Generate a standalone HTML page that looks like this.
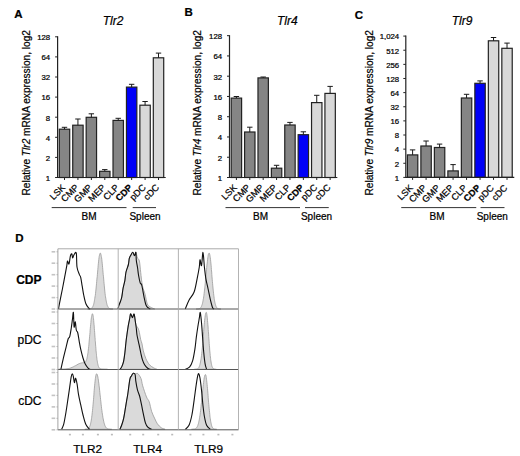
<!DOCTYPE html>
<html><head><meta charset="utf-8"><style>
html,body{margin:0;padding:0;background:#fff;}
svg{display:block;}
text{font-family:"Liberation Sans", sans-serif;stroke:#000;stroke-width:0.22px;}
</style></head><body>
<svg width="520" height="456" viewBox="0 0 520 456" font-family="'Liberation Sans', sans-serif"><text x="14.30" y="17.80" font-size="11.5" text-anchor="start" font-weight="bold" font-style="normal" fill="#000" >A</text>
<text x="113.00" y="25.30" font-size="12" text-anchor="middle" font-weight="normal" font-style="italic" fill="#000" >Tlr2</text>
<text transform="translate(29.50,112.80) rotate(-90)" font-size="10.15" text-anchor="middle">Relative <tspan font-style="italic">Tlr2</tspan> mRNA expression, log2</text>
<line x1="55.10" y1="177.50" x2="57.60" y2="177.50" stroke="#222" stroke-width="1"/>
<text x="50.20" y="180.80" font-size="7.8" text-anchor="end" font-weight="normal" font-style="normal" fill="#000" >1</text>
<line x1="55.10" y1="157.40" x2="57.60" y2="157.40" stroke="#222" stroke-width="1"/>
<text x="50.20" y="160.70" font-size="7.8" text-anchor="end" font-weight="normal" font-style="normal" fill="#000" >2</text>
<line x1="55.10" y1="137.30" x2="57.60" y2="137.30" stroke="#222" stroke-width="1"/>
<text x="50.20" y="140.60" font-size="7.8" text-anchor="end" font-weight="normal" font-style="normal" fill="#000" >4</text>
<line x1="55.10" y1="117.20" x2="57.60" y2="117.20" stroke="#222" stroke-width="1"/>
<text x="50.20" y="120.50" font-size="7.8" text-anchor="end" font-weight="normal" font-style="normal" fill="#000" >8</text>
<line x1="55.10" y1="97.10" x2="57.60" y2="97.10" stroke="#222" stroke-width="1"/>
<text x="50.20" y="100.40" font-size="7.8" text-anchor="end" font-weight="normal" font-style="normal" fill="#000" >16</text>
<line x1="55.10" y1="77.00" x2="57.60" y2="77.00" stroke="#222" stroke-width="1"/>
<text x="50.20" y="80.30" font-size="7.8" text-anchor="end" font-weight="normal" font-style="normal" fill="#000" >32</text>
<line x1="55.10" y1="56.90" x2="57.60" y2="56.90" stroke="#222" stroke-width="1"/>
<text x="50.20" y="60.20" font-size="7.8" text-anchor="end" font-weight="normal" font-style="normal" fill="#000" >64</text>
<line x1="55.10" y1="36.80" x2="57.60" y2="36.80" stroke="#222" stroke-width="1"/>
<text x="50.20" y="40.10" font-size="7.8" text-anchor="end" font-weight="normal" font-style="normal" fill="#000" >128</text>
<rect x="59.30" y="129.20" width="10.40" height="48.30" fill="#858585" stroke="#222" stroke-width="1.2"/>
<line x1="64.50" y1="129.20" x2="64.50" y2="127.30" stroke="#1a1a1a" stroke-width="1"/>
<line x1="61.80" y1="127.30" x2="67.20" y2="127.30" stroke="#1a1a1a" stroke-width="1"/>
<line x1="64.50" y1="177.50" x2="64.50" y2="180.00" stroke="#222" stroke-width="1"/>
<text transform="translate(65.80,188.10) rotate(-45)" font-size="9.2" text-anchor="end" font-weight="normal">LSK</text>
<rect x="72.73" y="125.20" width="10.40" height="52.30" fill="#858585" stroke="#222" stroke-width="1.2"/>
<line x1="77.93" y1="125.20" x2="77.93" y2="119.00" stroke="#1a1a1a" stroke-width="1"/>
<line x1="75.23" y1="119.00" x2="80.63" y2="119.00" stroke="#1a1a1a" stroke-width="1"/>
<line x1="77.93" y1="177.50" x2="77.93" y2="180.00" stroke="#222" stroke-width="1"/>
<text transform="translate(79.23,188.10) rotate(-45)" font-size="9.2" text-anchor="end" font-weight="normal">CMP</text>
<rect x="86.16" y="117.30" width="10.40" height="60.20" fill="#858585" stroke="#222" stroke-width="1.2"/>
<line x1="91.36" y1="117.30" x2="91.36" y2="113.80" stroke="#1a1a1a" stroke-width="1"/>
<line x1="88.66" y1="113.80" x2="94.06" y2="113.80" stroke="#1a1a1a" stroke-width="1"/>
<line x1="91.36" y1="177.50" x2="91.36" y2="180.00" stroke="#222" stroke-width="1"/>
<text transform="translate(92.66,188.10) rotate(-45)" font-size="9.2" text-anchor="end" font-weight="normal">GMP</text>
<rect x="99.59" y="171.30" width="10.40" height="6.20" fill="#858585" stroke="#222" stroke-width="1.2"/>
<line x1="104.79" y1="171.30" x2="104.79" y2="169.60" stroke="#1a1a1a" stroke-width="1"/>
<line x1="102.09" y1="169.60" x2="107.49" y2="169.60" stroke="#1a1a1a" stroke-width="1"/>
<line x1="104.79" y1="177.50" x2="104.79" y2="180.00" stroke="#222" stroke-width="1"/>
<text transform="translate(106.09,188.10) rotate(-45)" font-size="9.2" text-anchor="end" font-weight="normal">MEP</text>
<rect x="113.02" y="120.40" width="10.40" height="57.10" fill="#858585" stroke="#222" stroke-width="1.2"/>
<line x1="118.22" y1="120.40" x2="118.22" y2="118.30" stroke="#1a1a1a" stroke-width="1"/>
<line x1="115.52" y1="118.30" x2="120.92" y2="118.30" stroke="#1a1a1a" stroke-width="1"/>
<line x1="118.22" y1="177.50" x2="118.22" y2="180.00" stroke="#222" stroke-width="1"/>
<text transform="translate(119.52,188.10) rotate(-45)" font-size="9.2" text-anchor="end" font-weight="normal">CLP</text>
<rect x="126.45" y="87.10" width="10.40" height="90.40" fill="#0000f8" stroke="#222" stroke-width="1.2"/>
<line x1="131.65" y1="87.10" x2="131.65" y2="84.30" stroke="#1a1a1a" stroke-width="1"/>
<line x1="128.95" y1="84.30" x2="134.35" y2="84.30" stroke="#1a1a1a" stroke-width="1"/>
<line x1="131.65" y1="177.50" x2="131.65" y2="180.00" stroke="#222" stroke-width="1"/>
<text transform="translate(132.95,188.10) rotate(-45)" font-size="9.2" text-anchor="end" font-weight="bold">CDP</text>
<rect x="139.88" y="105.20" width="10.40" height="72.30" fill="#d8d8d8" stroke="#222" stroke-width="1.2"/>
<line x1="145.08" y1="105.20" x2="145.08" y2="101.50" stroke="#1a1a1a" stroke-width="1"/>
<line x1="142.38" y1="101.50" x2="147.78" y2="101.50" stroke="#1a1a1a" stroke-width="1"/>
<line x1="145.08" y1="177.50" x2="145.08" y2="180.00" stroke="#222" stroke-width="1"/>
<text transform="translate(146.38,188.10) rotate(-45)" font-size="9.2" text-anchor="end" font-weight="normal">pDC</text>
<rect x="153.31" y="57.80" width="10.40" height="119.70" fill="#d8d8d8" stroke="#222" stroke-width="1.2"/>
<line x1="158.51" y1="57.80" x2="158.51" y2="53.10" stroke="#1a1a1a" stroke-width="1"/>
<line x1="155.81" y1="53.10" x2="161.21" y2="53.10" stroke="#1a1a1a" stroke-width="1"/>
<line x1="158.51" y1="177.50" x2="158.51" y2="180.00" stroke="#222" stroke-width="1"/>
<text transform="translate(159.81,188.10) rotate(-45)" font-size="9.2" text-anchor="end" font-weight="normal">cDC</text>
<line x1="57.60" y1="36.30" x2="57.60" y2="178.00" stroke="#222" stroke-width="1.2"/>
<line x1="57.60" y1="177.50" x2="165.72" y2="177.50" stroke="#222" stroke-width="1.2"/>
<line x1="51.70" y1="207.6" x2="126.50" y2="207.6" stroke="#333" stroke-width="1"/>
<line x1="132.70" y1="207.6" x2="156.00" y2="207.6" stroke="#333" stroke-width="1"/>
<text x="89.10" y="220.40" font-size="10" text-anchor="middle" font-weight="normal" font-style="normal" fill="#000" >BM</text>
<text x="145.00" y="220.40" font-size="10" text-anchor="middle" font-weight="normal" font-style="normal" fill="#000" >Spleen</text>
<text x="184.50" y="16.40" font-size="11.5" text-anchor="start" font-weight="bold" font-style="normal" fill="#000" >B</text>
<text x="287.30" y="25.30" font-size="12" text-anchor="middle" font-weight="normal" font-style="italic" fill="#000" >Tlr4</text>
<text transform="translate(201.00,112.80) rotate(-90)" font-size="10.15" text-anchor="middle">Relative <tspan font-style="italic">Tlr4</tspan> mRNA expression, log2</text>
<line x1="227.00" y1="177.50" x2="229.50" y2="177.50" stroke="#222" stroke-width="1"/>
<text x="222.10" y="180.80" font-size="7.8" text-anchor="end" font-weight="normal" font-style="normal" fill="#000" >1</text>
<line x1="227.00" y1="157.24" x2="229.50" y2="157.24" stroke="#222" stroke-width="1"/>
<text x="222.10" y="160.54" font-size="7.8" text-anchor="end" font-weight="normal" font-style="normal" fill="#000" >2</text>
<line x1="227.00" y1="136.98" x2="229.50" y2="136.98" stroke="#222" stroke-width="1"/>
<text x="222.10" y="140.28" font-size="7.8" text-anchor="end" font-weight="normal" font-style="normal" fill="#000" >4</text>
<line x1="227.00" y1="116.72" x2="229.50" y2="116.72" stroke="#222" stroke-width="1"/>
<text x="222.10" y="120.02" font-size="7.8" text-anchor="end" font-weight="normal" font-style="normal" fill="#000" >8</text>
<line x1="227.00" y1="96.46" x2="229.50" y2="96.46" stroke="#222" stroke-width="1"/>
<text x="222.10" y="99.76" font-size="7.8" text-anchor="end" font-weight="normal" font-style="normal" fill="#000" >16</text>
<line x1="227.00" y1="76.20" x2="229.50" y2="76.20" stroke="#222" stroke-width="1"/>
<text x="222.10" y="79.50" font-size="7.8" text-anchor="end" font-weight="normal" font-style="normal" fill="#000" >32</text>
<line x1="227.00" y1="55.94" x2="229.50" y2="55.94" stroke="#222" stroke-width="1"/>
<text x="222.10" y="59.24" font-size="7.8" text-anchor="end" font-weight="normal" font-style="normal" fill="#000" >64</text>
<line x1="227.00" y1="35.68" x2="229.50" y2="35.68" stroke="#222" stroke-width="1"/>
<text x="222.10" y="38.98" font-size="7.8" text-anchor="end" font-weight="normal" font-style="normal" fill="#000" >128</text>
<rect x="231.20" y="98.10" width="10.40" height="79.40" fill="#858585" stroke="#222" stroke-width="1.2"/>
<line x1="236.40" y1="98.10" x2="236.40" y2="96.50" stroke="#1a1a1a" stroke-width="1"/>
<line x1="233.70" y1="96.50" x2="239.10" y2="96.50" stroke="#1a1a1a" stroke-width="1"/>
<line x1="236.40" y1="177.50" x2="236.40" y2="180.00" stroke="#222" stroke-width="1"/>
<text transform="translate(237.50,188.10) rotate(-45)" font-size="9.2" text-anchor="end" font-weight="normal">LSK</text>
<rect x="244.59" y="132.00" width="10.40" height="45.50" fill="#858585" stroke="#222" stroke-width="1.2"/>
<line x1="249.79" y1="132.00" x2="249.79" y2="127.20" stroke="#1a1a1a" stroke-width="1"/>
<line x1="247.09" y1="127.20" x2="252.49" y2="127.20" stroke="#1a1a1a" stroke-width="1"/>
<line x1="249.79" y1="177.50" x2="249.79" y2="180.00" stroke="#222" stroke-width="1"/>
<text transform="translate(250.89,188.10) rotate(-45)" font-size="9.2" text-anchor="end" font-weight="normal">CMP</text>
<rect x="257.98" y="77.90" width="10.40" height="99.60" fill="#858585" stroke="#222" stroke-width="1.2"/>
<line x1="263.18" y1="77.90" x2="263.18" y2="77.00" stroke="#1a1a1a" stroke-width="1"/>
<line x1="260.48" y1="77.00" x2="265.88" y2="77.00" stroke="#1a1a1a" stroke-width="1"/>
<line x1="263.18" y1="177.50" x2="263.18" y2="180.00" stroke="#222" stroke-width="1"/>
<text transform="translate(264.28,188.10) rotate(-45)" font-size="9.2" text-anchor="end" font-weight="normal">GMP</text>
<rect x="271.37" y="168.20" width="10.40" height="9.30" fill="#858585" stroke="#222" stroke-width="1.2"/>
<line x1="276.57" y1="168.20" x2="276.57" y2="165.30" stroke="#1a1a1a" stroke-width="1"/>
<line x1="273.87" y1="165.30" x2="279.27" y2="165.30" stroke="#1a1a1a" stroke-width="1"/>
<line x1="276.57" y1="177.50" x2="276.57" y2="180.00" stroke="#222" stroke-width="1"/>
<text transform="translate(277.67,188.10) rotate(-45)" font-size="9.2" text-anchor="end" font-weight="normal">MEP</text>
<rect x="284.76" y="125.00" width="10.40" height="52.50" fill="#858585" stroke="#222" stroke-width="1.2"/>
<line x1="289.96" y1="125.00" x2="289.96" y2="122.40" stroke="#1a1a1a" stroke-width="1"/>
<line x1="287.26" y1="122.40" x2="292.66" y2="122.40" stroke="#1a1a1a" stroke-width="1"/>
<line x1="289.96" y1="177.50" x2="289.96" y2="180.00" stroke="#222" stroke-width="1"/>
<text transform="translate(291.06,188.10) rotate(-45)" font-size="9.2" text-anchor="end" font-weight="normal">CLP</text>
<rect x="298.15" y="134.70" width="10.40" height="42.80" fill="#0000f8" stroke="#222" stroke-width="1.2"/>
<line x1="303.35" y1="134.70" x2="303.35" y2="131.80" stroke="#1a1a1a" stroke-width="1"/>
<line x1="300.65" y1="131.80" x2="306.05" y2="131.80" stroke="#1a1a1a" stroke-width="1"/>
<line x1="303.35" y1="177.50" x2="303.35" y2="180.00" stroke="#222" stroke-width="1"/>
<text transform="translate(304.45,188.10) rotate(-45)" font-size="9.2" text-anchor="end" font-weight="bold">CDP</text>
<rect x="311.54" y="102.60" width="10.40" height="74.90" fill="#d8d8d8" stroke="#222" stroke-width="1.2"/>
<line x1="316.74" y1="102.60" x2="316.74" y2="95.30" stroke="#1a1a1a" stroke-width="1"/>
<line x1="314.04" y1="95.30" x2="319.44" y2="95.30" stroke="#1a1a1a" stroke-width="1"/>
<line x1="316.74" y1="177.50" x2="316.74" y2="180.00" stroke="#222" stroke-width="1"/>
<text transform="translate(317.84,188.10) rotate(-45)" font-size="9.2" text-anchor="end" font-weight="normal">pDC</text>
<rect x="324.93" y="93.40" width="10.40" height="84.10" fill="#d8d8d8" stroke="#222" stroke-width="1.2"/>
<line x1="330.13" y1="93.40" x2="330.13" y2="86.40" stroke="#1a1a1a" stroke-width="1"/>
<line x1="327.43" y1="86.40" x2="332.83" y2="86.40" stroke="#1a1a1a" stroke-width="1"/>
<line x1="330.13" y1="177.50" x2="330.13" y2="180.00" stroke="#222" stroke-width="1"/>
<text transform="translate(331.23,188.10) rotate(-45)" font-size="9.2" text-anchor="end" font-weight="normal">cDC</text>
<line x1="229.50" y1="35.18" x2="229.50" y2="178.00" stroke="#222" stroke-width="1.2"/>
<line x1="229.50" y1="177.50" x2="337.32" y2="177.50" stroke="#222" stroke-width="1.2"/>
<line x1="225.50" y1="207.6" x2="300.00" y2="207.6" stroke="#333" stroke-width="1"/>
<line x1="305.00" y1="207.6" x2="328.75" y2="207.6" stroke="#333" stroke-width="1"/>
<text x="260.50" y="220.40" font-size="10" text-anchor="middle" font-weight="normal" font-style="normal" fill="#000" >BM</text>
<text x="316.50" y="220.40" font-size="10" text-anchor="middle" font-weight="normal" font-style="normal" fill="#000" >Spleen</text>
<text x="354.80" y="18.60" font-size="11.5" text-anchor="start" font-weight="bold" font-style="normal" fill="#000" >C</text>
<text x="462.00" y="25.30" font-size="12" text-anchor="middle" font-weight="normal" font-style="italic" fill="#000" >Tlr9</text>
<text transform="translate(373.00,112.80) rotate(-90)" font-size="10.15" text-anchor="middle">Relative <tspan font-style="italic">Tlr9</tspan> mRNA expression, log2</text>
<line x1="403.30" y1="177.40" x2="405.80" y2="177.40" stroke="#222" stroke-width="1"/>
<text x="399.20" y="180.70" font-size="7.8" text-anchor="end" font-weight="normal" font-style="normal" fill="#000" >1</text>
<line x1="403.30" y1="163.27" x2="405.80" y2="163.27" stroke="#222" stroke-width="1"/>
<text x="399.20" y="166.57" font-size="7.8" text-anchor="end" font-weight="normal" font-style="normal" fill="#000" >2</text>
<line x1="403.30" y1="149.14" x2="405.80" y2="149.14" stroke="#222" stroke-width="1"/>
<text x="399.20" y="152.44" font-size="7.8" text-anchor="end" font-weight="normal" font-style="normal" fill="#000" >4</text>
<line x1="403.30" y1="135.01" x2="405.80" y2="135.01" stroke="#222" stroke-width="1"/>
<text x="399.20" y="138.31" font-size="7.8" text-anchor="end" font-weight="normal" font-style="normal" fill="#000" >8</text>
<line x1="403.30" y1="120.88" x2="405.80" y2="120.88" stroke="#222" stroke-width="1"/>
<text x="399.20" y="124.18" font-size="7.8" text-anchor="end" font-weight="normal" font-style="normal" fill="#000" >16</text>
<line x1="403.30" y1="106.75" x2="405.80" y2="106.75" stroke="#222" stroke-width="1"/>
<text x="399.20" y="110.05" font-size="7.8" text-anchor="end" font-weight="normal" font-style="normal" fill="#000" >32</text>
<line x1="403.30" y1="92.62" x2="405.80" y2="92.62" stroke="#222" stroke-width="1"/>
<text x="399.20" y="95.92" font-size="7.8" text-anchor="end" font-weight="normal" font-style="normal" fill="#000" >64</text>
<line x1="403.30" y1="78.49" x2="405.80" y2="78.49" stroke="#222" stroke-width="1"/>
<text x="399.20" y="81.79" font-size="7.8" text-anchor="end" font-weight="normal" font-style="normal" fill="#000" >128</text>
<line x1="403.30" y1="64.36" x2="405.80" y2="64.36" stroke="#222" stroke-width="1"/>
<text x="399.20" y="67.66" font-size="7.8" text-anchor="end" font-weight="normal" font-style="normal" fill="#000" >256</text>
<line x1="403.30" y1="50.23" x2="405.80" y2="50.23" stroke="#222" stroke-width="1"/>
<text x="399.20" y="53.53" font-size="7.8" text-anchor="end" font-weight="normal" font-style="normal" fill="#000" >512</text>
<line x1="403.30" y1="36.10" x2="405.80" y2="36.10" stroke="#222" stroke-width="1"/>
<text x="399.20" y="39.40" font-size="7.8" text-anchor="end" font-weight="normal" font-style="normal" fill="#000" >1,024</text>
<rect x="407.40" y="154.90" width="10.40" height="22.50" fill="#858585" stroke="#222" stroke-width="1.2"/>
<line x1="412.60" y1="154.90" x2="412.60" y2="149.90" stroke="#1a1a1a" stroke-width="1"/>
<line x1="409.90" y1="149.90" x2="415.30" y2="149.90" stroke="#1a1a1a" stroke-width="1"/>
<line x1="412.60" y1="177.40" x2="412.60" y2="179.90" stroke="#222" stroke-width="1"/>
<text transform="translate(413.60,188.50) rotate(-45)" font-size="9.2" text-anchor="end" font-weight="normal">LSK</text>
<rect x="420.89" y="146.00" width="10.40" height="31.40" fill="#858585" stroke="#222" stroke-width="1.2"/>
<line x1="426.09" y1="146.00" x2="426.09" y2="141.00" stroke="#1a1a1a" stroke-width="1"/>
<line x1="423.39" y1="141.00" x2="428.79" y2="141.00" stroke="#1a1a1a" stroke-width="1"/>
<line x1="426.09" y1="177.40" x2="426.09" y2="179.90" stroke="#222" stroke-width="1"/>
<text transform="translate(427.09,188.50) rotate(-45)" font-size="9.2" text-anchor="end" font-weight="normal">CMP</text>
<rect x="434.38" y="147.50" width="10.40" height="29.90" fill="#858585" stroke="#222" stroke-width="1.2"/>
<line x1="439.58" y1="147.50" x2="439.58" y2="144.10" stroke="#1a1a1a" stroke-width="1"/>
<line x1="436.88" y1="144.10" x2="442.28" y2="144.10" stroke="#1a1a1a" stroke-width="1"/>
<line x1="439.58" y1="177.40" x2="439.58" y2="179.90" stroke="#222" stroke-width="1"/>
<text transform="translate(440.58,188.50) rotate(-45)" font-size="9.2" text-anchor="end" font-weight="normal">GMP</text>
<rect x="447.87" y="170.90" width="10.40" height="6.50" fill="#858585" stroke="#222" stroke-width="1.2"/>
<line x1="453.07" y1="170.90" x2="453.07" y2="164.60" stroke="#1a1a1a" stroke-width="1"/>
<line x1="450.37" y1="164.60" x2="455.77" y2="164.60" stroke="#1a1a1a" stroke-width="1"/>
<line x1="453.07" y1="177.40" x2="453.07" y2="179.90" stroke="#222" stroke-width="1"/>
<text transform="translate(454.07,188.50) rotate(-45)" font-size="9.2" text-anchor="end" font-weight="normal">MEP</text>
<rect x="461.36" y="98.00" width="10.40" height="79.40" fill="#858585" stroke="#222" stroke-width="1.2"/>
<line x1="466.56" y1="98.00" x2="466.56" y2="94.30" stroke="#1a1a1a" stroke-width="1"/>
<line x1="463.86" y1="94.30" x2="469.26" y2="94.30" stroke="#1a1a1a" stroke-width="1"/>
<line x1="466.56" y1="177.40" x2="466.56" y2="179.90" stroke="#222" stroke-width="1"/>
<text transform="translate(467.56,188.50) rotate(-45)" font-size="9.2" text-anchor="end" font-weight="normal">CLP</text>
<rect x="474.85" y="83.30" width="10.40" height="94.10" fill="#0000f8" stroke="#222" stroke-width="1.2"/>
<line x1="480.05" y1="83.30" x2="480.05" y2="80.90" stroke="#1a1a1a" stroke-width="1"/>
<line x1="477.35" y1="80.90" x2="482.75" y2="80.90" stroke="#1a1a1a" stroke-width="1"/>
<line x1="480.05" y1="177.40" x2="480.05" y2="179.90" stroke="#222" stroke-width="1"/>
<text transform="translate(481.05,188.50) rotate(-45)" font-size="9.2" text-anchor="end" font-weight="bold">CDP</text>
<rect x="488.34" y="40.80" width="10.40" height="136.60" fill="#d8d8d8" stroke="#222" stroke-width="1.2"/>
<line x1="493.54" y1="40.80" x2="493.54" y2="37.50" stroke="#1a1a1a" stroke-width="1"/>
<line x1="490.84" y1="37.50" x2="496.24" y2="37.50" stroke="#1a1a1a" stroke-width="1"/>
<line x1="493.54" y1="177.40" x2="493.54" y2="179.90" stroke="#222" stroke-width="1"/>
<text transform="translate(494.54,188.50) rotate(-45)" font-size="9.2" text-anchor="end" font-weight="normal">pDC</text>
<rect x="501.83" y="48.30" width="10.40" height="129.10" fill="#d8d8d8" stroke="#222" stroke-width="1.2"/>
<line x1="507.03" y1="48.30" x2="507.03" y2="43.10" stroke="#1a1a1a" stroke-width="1"/>
<line x1="504.33" y1="43.10" x2="509.73" y2="43.10" stroke="#1a1a1a" stroke-width="1"/>
<line x1="507.03" y1="177.40" x2="507.03" y2="179.90" stroke="#222" stroke-width="1"/>
<text transform="translate(508.03,188.50) rotate(-45)" font-size="9.2" text-anchor="end" font-weight="normal">cDC</text>
<line x1="405.80" y1="35.60" x2="405.80" y2="177.90" stroke="#222" stroke-width="1.2"/>
<line x1="405.80" y1="177.40" x2="514.27" y2="177.40" stroke="#222" stroke-width="1.2"/>
<line x1="401.25" y1="207.6" x2="476.25" y2="207.6" stroke="#333" stroke-width="1"/>
<line x1="480.50" y1="207.6" x2="504.50" y2="207.6" stroke="#333" stroke-width="1"/>
<text x="437.00" y="220.40" font-size="10" text-anchor="middle" font-weight="normal" font-style="normal" fill="#000" >BM</text>
<text x="492.25" y="220.40" font-size="10" text-anchor="middle" font-weight="normal" font-style="normal" fill="#000" >Spleen</text>
<text x="15.20" y="242.30" font-size="11.5" text-anchor="start" font-weight="bold" font-style="normal" fill="#000" >D</text>
<text x="41.50" y="283.80" font-size="12" text-anchor="end" font-weight="bold" font-style="normal" fill="#000" >CDP</text>
<text x="41.50" y="344.20" font-size="12" text-anchor="end" font-weight="normal" font-style="normal" fill="#000" >pDC</text>
<text x="41.50" y="404.50" font-size="12" text-anchor="end" font-weight="normal" font-style="normal" fill="#000" >cDC</text>
<text x="87.60" y="453.00" font-size="11.8" text-anchor="middle" font-weight="normal" font-style="normal" fill="#000" >TLR2</text>
<text x="147.60" y="453.00" font-size="11.8" text-anchor="middle" font-weight="normal" font-style="normal" fill="#000" >TLR4</text>
<text x="208.60" y="453.00" font-size="11.8" text-anchor="middle" font-weight="normal" font-style="normal" fill="#000" >TLR9</text>
<polygon points="87.7,309.0 87.7,309.0 87.9,309.0 88.1,309.0 88.3,309.0 88.5,309.0 88.8,309.0 89.0,309.0 89.2,308.9 89.4,308.9 89.6,308.9 89.8,308.9 90.0,308.8 90.2,308.8 90.4,308.8 90.6,308.7 90.8,308.6 91.1,308.5 91.3,308.4 91.5,308.3 91.7,308.1 91.9,307.9 92.1,307.7 92.3,307.4 92.5,307.0 92.7,306.7 93.0,306.2 93.2,305.7 93.4,305.1 93.6,304.5 93.8,303.7 94.0,302.8 94.2,301.9 94.4,300.8 94.6,299.6 94.8,298.3 95.0,296.9 95.3,295.4 95.5,293.7 95.7,291.9 95.9,290.0 96.1,288.0 96.3,285.9 96.5,283.7 96.7,281.5 96.9,279.1 97.2,276.8 97.4,274.4 97.6,272.1 97.8,269.7 98.0,267.4 98.2,265.2 98.4,263.2 98.6,261.2 98.8,259.4 99.0,257.8 99.2,256.4 99.5,255.2 99.7,254.3 99.9,253.6 100.1,253.2 100.3,253.1 100.5,253.2 100.7,253.6 100.9,254.3 101.1,255.2 101.3,256.4 101.6,257.8 101.8,259.4 102.0,261.2 102.2,263.2 102.4,265.2 102.6,267.4 102.8,269.7 103.0,272.1 103.2,274.4 103.5,276.8 103.7,279.1 103.9,281.5 104.1,283.7 104.3,285.9 104.5,288.0 104.7,290.0 104.9,291.9 105.1,293.7 105.3,295.4 105.5,296.9 105.8,298.3 106.0,299.6 106.2,300.8 106.4,301.9 106.6,302.8 106.8,303.7 107.0,304.5 107.2,305.1 107.4,305.7 107.7,306.2 107.9,306.7 108.1,307.0 108.3,307.4 108.5,307.7 108.7,307.9 108.9,308.1 109.1,308.3 109.3,308.4 109.5,308.5 109.8,308.6 110.0,308.7 110.2,308.8 110.4,308.8 110.6,308.8 110.8,308.9 111.0,308.9 111.2,308.9 111.4,308.9 111.6,309.0 111.8,309.0 112.1,309.0 112.3,309.0 112.5,309.0 112.7,309.0 112.9,309.0 112.9,309.0" fill="#dadada" stroke="#999" stroke-width="0.8"/>
<path d="M58.50,309.00 C58.65,308.13 58.75,307.13 59.40,303.80 C60.05,300.47 61.53,293.40 62.40,289.00 C63.27,284.60 63.87,281.30 64.60,277.40 C65.33,273.50 66.32,268.33 66.80,265.60 C67.28,262.87 67.13,261.27 67.50,261.00 C67.87,260.73 68.52,264.83 69.00,264.00 C69.48,263.17 69.92,257.70 70.40,256.00 C70.88,254.30 71.53,253.47 71.90,253.80 C72.27,254.13 72.23,257.87 72.60,258.00 C72.97,258.13 73.48,255.42 74.10,254.60 C74.72,253.78 75.82,251.03 76.30,253.10 C76.78,255.17 76.50,263.45 77.00,267.00 C77.50,270.55 78.68,272.67 79.30,274.40 C79.92,276.13 80.22,275.43 80.70,277.40 C81.18,279.37 81.70,283.27 82.20,286.20 C82.70,289.13 83.08,292.07 83.70,295.00 C84.32,297.93 85.05,301.60 85.90,303.80 C86.75,306.00 88.12,307.33 88.80,308.20 C89.48,309.07 89.80,308.87 90.00,309.00" fill="none" stroke="#111" stroke-width="1.1" stroke-linejoin="round"/>
<path d="M118.00,309.00 C118.13,308.45 118.38,306.98 118.80,305.70 C119.22,304.42 120.00,302.77 120.50,301.30 C121.00,299.83 121.37,299.08 121.80,296.90 C122.23,294.72 122.58,290.97 123.10,288.20 C123.62,285.43 124.42,283.00 124.90,280.30 C125.38,277.60 125.42,274.63 126.00,272.00 C126.58,269.37 127.85,266.77 128.40,264.50 C128.95,262.23 128.87,260.00 129.30,258.40 C129.73,256.80 130.42,255.92 131.00,254.90 C131.58,253.88 132.22,252.15 132.80,252.30 C133.38,252.45 133.98,255.80 134.50,255.80 C135.02,255.80 135.40,251.93 135.90,252.30 C136.40,252.67 136.92,256.55 137.50,258.00 C138.08,259.45 138.87,258.60 139.40,261.00 C139.93,263.40 140.20,268.32 140.70,272.40 C141.20,276.48 141.67,281.85 142.40,285.50 C143.13,289.15 144.28,291.22 145.10,294.30 C145.92,297.38 146.43,301.88 147.30,304.00 C148.17,306.12 149.07,306.17 150.30,307.00 C151.53,307.83 153.97,308.67 154.70,309.00 Z" fill="#dadada" stroke="#999" stroke-width="0.8"/>
<path d="M118.00,309.00 C118.13,308.45 118.38,306.98 118.80,305.70 C119.22,304.42 120.00,302.77 120.50,301.30 C121.00,299.83 121.37,299.08 121.80,296.90 C122.23,294.72 122.58,290.97 123.10,288.20 C123.62,285.43 124.42,283.00 124.90,280.30 C125.38,277.60 125.42,274.63 126.00,272.00 C126.58,269.37 127.85,266.77 128.40,264.50 C128.95,262.23 128.87,260.00 129.30,258.40 C129.73,256.80 130.42,255.92 131.00,254.90 C131.58,253.88 132.22,252.15 132.80,252.30 C133.38,252.45 133.98,255.80 134.50,255.80 C135.02,255.80 135.60,251.57 135.90,252.30 C136.20,253.03 136.02,257.58 136.30,260.20 C136.58,262.82 137.23,265.53 137.60,268.00 C137.97,270.47 138.07,272.52 138.50,275.00 C138.93,277.48 139.68,281.30 140.20,282.90 C140.72,284.50 141.15,283.28 141.60,284.60 C142.05,285.92 142.47,288.60 142.90,290.80 C143.33,293.00 143.70,295.47 144.20,297.80 C144.70,300.13 145.32,303.18 145.90,304.80 C146.48,306.42 146.97,306.80 147.70,307.50 C148.43,308.20 149.87,308.75 150.30,309.00" fill="none" stroke="#111" stroke-width="1.1" stroke-linejoin="round"/>
<polygon points="196.1,309.0 196.1,309.0 196.3,309.0 196.5,309.0 196.7,309.0 196.9,309.0 197.2,309.0 197.4,309.0 197.6,308.9 197.8,308.9 198.0,308.9 198.2,308.9 198.5,308.8 198.7,308.8 198.9,308.8 199.1,308.7 199.3,308.6 199.6,308.5 199.8,308.4 200.0,308.3 200.2,308.1 200.4,307.9 200.6,307.7 200.8,307.4 201.1,307.0 201.3,306.7 201.5,306.2 201.7,305.7 201.9,305.1 202.2,304.4 202.4,303.7 202.6,302.8 202.8,301.9 203.0,300.8 203.2,299.6 203.5,298.3 203.7,296.9 203.9,295.4 204.1,293.7 204.3,291.9 204.5,290.1 204.8,288.0 205.0,285.9 205.2,283.8 205.4,281.5 205.6,279.1 205.8,276.8 206.1,274.4 206.3,272.0 206.5,269.7 206.7,267.5 206.9,265.2 207.2,263.1 207.4,261.2 207.6,259.4 207.8,257.8 208.0,256.5 208.2,255.3 208.4,254.3 208.7,253.6 208.9,253.2 209.1,253.1 209.3,253.2 209.5,253.6 209.7,254.3 209.9,255.2 210.1,256.4 210.3,257.8 210.5,259.4 210.7,261.2 210.9,263.1 211.1,265.2 211.3,267.5 211.4,269.7 211.7,272.1 211.8,274.4 212.0,276.8 212.2,279.2 212.4,281.4 212.6,283.7 212.8,285.9 213.0,288.0 213.2,290.1 213.4,291.9 213.6,293.7 213.8,295.3 214.0,296.9 214.2,298.4 214.4,299.6 214.6,300.8 214.8,301.9 215.0,302.8 215.2,303.7 215.4,304.4 215.6,305.1 215.8,305.7 216.0,306.2 216.2,306.7 216.3,307.0 216.6,307.4 216.7,307.6 216.9,307.9 217.1,308.1 217.3,308.3 217.5,308.4 217.7,308.5 217.9,308.6 218.1,308.7 218.3,308.7 218.5,308.8 218.7,308.8 218.9,308.9 219.1,308.9 219.3,308.9 219.5,308.9 219.7,309.0 219.9,309.0 220.1,309.0 220.3,309.0 220.5,309.0 220.7,309.0 220.9,309.0 220.9,309.0" fill="#dadada" stroke="#999" stroke-width="0.8"/>
<path d="M185.30,309.00 C185.93,307.50 187.63,302.83 189.10,300.00 C190.57,297.17 192.77,295.53 194.10,292.00 C195.43,288.47 196.23,282.97 197.10,278.80 C197.97,274.63 198.82,270.18 199.30,267.00 C199.78,263.82 199.63,259.93 200.00,259.70 C200.37,259.47 201.00,266.82 201.50,265.60 C202.00,264.38 202.52,252.17 203.00,252.40 C203.48,252.63 203.92,262.60 204.40,267.00 C204.88,271.40 205.28,275.13 205.90,278.80 C206.52,282.47 207.37,285.57 208.10,289.00 C208.83,292.43 209.57,296.32 210.30,299.40 C211.03,302.48 211.88,305.90 212.50,307.50 C213.12,309.10 213.75,308.75 214.00,309.00" fill="none" stroke="#111" stroke-width="1.1" stroke-linejoin="round"/>
<polygon points="58.5,369.3 58.5,369.3 59.7,369.3 61.0,369.3 62.2,369.2 63.4,369.2 64.6,369.1 65.8,369.0 67.1,368.8 68.3,368.6 69.5,368.3 70.8,367.9 72.0,367.4 73.2,366.9 74.4,366.2 75.7,365.6 76.9,364.9 78.1,364.2 79.3,363.6 80.5,363.2 81.6,362.9 81.8,362.9 81.8,362.9 81.9,362.9 82.1,362.8 82.3,362.8 82.5,362.8 82.7,362.8 82.8,362.7 83.0,362.7 83.0,362.7 83.2,362.7 83.4,362.7 83.6,362.7 83.8,362.7 84.0,362.6 84.1,362.6 84.2,362.6 84.3,362.5 84.5,362.5 84.7,362.4 84.9,362.3 85.0,362.2 85.2,362.1 85.4,361.9 85.5,361.8 85.6,361.7 85.8,361.4 86.0,361.1 86.1,360.8 86.3,360.4 86.5,359.9 86.7,359.4 86.7,359.3 86.9,358.7 87.0,358.0 87.2,357.2 87.4,356.2 87.6,355.2 87.8,354.0 87.9,353.2 88.0,352.8 88.1,351.4 88.3,350.0 88.5,348.3 88.7,346.6 88.9,344.9 89.0,343.0 89.1,342.1 89.2,341.0 89.4,338.9 89.6,336.8 89.8,334.7 90.0,332.6 90.1,330.5 90.3,328.3 90.3,328.0 90.5,326.3 90.7,324.3 90.9,322.5 91.0,320.8 91.2,319.1 91.4,317.7 91.6,316.5 91.6,316.5 91.8,315.5 92.0,314.7 92.1,314.1 92.3,313.8 92.5,313.8 92.7,314.0 92.8,314.4 92.8,314.5 93.0,315.2 93.2,316.2 93.3,317.4 93.5,318.8 93.7,320.4 93.8,322.1 94.0,324.0 94.0,324.2 94.2,326.1 94.3,328.3 94.5,330.5 94.7,332.7 94.8,335.0 95.0,337.3 95.2,339.6 95.2,340.5 95.4,341.9 95.5,344.0 95.7,346.2 95.9,348.2 96.0,350.2 96.2,352.1 96.4,353.7 96.5,354.8 96.5,355.4 96.7,356.9 96.9,358.3 97.0,359.6 97.2,360.7 97.4,361.8 97.5,362.7 97.7,363.5 97.7,363.6 97.9,364.3 98.0,365.0 98.2,365.6 98.4,366.1 98.5,366.5 98.7,366.9 98.9,367.3 98.9,367.3 99.0,367.6 99.2,367.8 99.4,368.0 99.6,368.2 99.7,368.4 99.9,368.5 100.1,368.6 100.2,368.6 100.2,368.7 100.4,368.8 100.6,368.8 100.7,368.9 100.9,368.9 101.1,369.0 101.2,369.0 101.4,369.0 101.4,369.0 101.6,369.1 101.7,369.1 101.9,369.1 102.1,369.1 102.2,369.1 102.4,369.2 102.6,369.2 102.6,369.2 103.8,369.2 105.0,369.3 106.3,369.3 107.5,369.3 107.5,369.3" fill="#dadada" stroke="#999" stroke-width="0.8"/>
<path d="M60.90,369.30 C61.27,367.65 62.25,363.02 63.10,359.40 C63.95,355.78 65.15,351.03 66.00,347.60 C66.85,344.17 67.58,340.63 68.20,338.80 C68.82,336.97 69.20,338.32 69.70,336.60 C70.20,334.88 70.75,331.32 71.20,328.50 C71.65,325.68 72.03,322.38 72.40,319.70 C72.77,317.02 73.12,311.18 73.40,312.40 C73.68,313.62 73.78,325.42 74.10,327.00 C74.42,328.58 74.93,321.40 75.30,321.90 C75.67,322.40 75.88,328.15 76.30,330.00 C76.72,331.85 77.30,331.03 77.80,333.00 C78.30,334.97 78.82,339.12 79.30,341.80 C79.78,344.48 80.08,346.40 80.70,349.10 C81.32,351.80 82.27,355.55 83.00,358.00 C83.73,360.45 84.25,362.10 85.10,363.80 C85.95,365.50 87.28,367.28 88.10,368.20 C88.92,369.12 89.68,369.12 90.00,369.30" fill="none" stroke="#111" stroke-width="1.1" stroke-linejoin="round"/>
<path d="M120.10,369.30 C120.38,368.85 121.22,367.93 121.80,366.60 C122.38,365.27 123.08,363.65 123.60,361.30 C124.12,358.95 124.53,355.42 124.90,352.50 C125.27,349.58 125.52,346.38 125.80,343.80 C126.08,341.22 126.23,339.75 126.60,337.00 C126.97,334.25 127.63,329.65 128.00,327.30 C128.37,324.95 128.52,324.37 128.80,322.90 C129.08,321.43 129.40,320.03 129.70,318.50 C130.00,316.97 130.15,313.85 130.60,313.70 C131.05,313.55 131.82,317.53 132.40,317.60 C132.98,317.67 133.60,313.37 134.10,314.10 C134.60,314.83 135.00,320.02 135.40,322.00 C135.80,323.98 136.05,324.97 136.50,326.00 C136.95,327.03 137.62,327.10 138.10,328.20 C138.58,329.30 138.97,330.70 139.40,332.60 C139.83,334.50 140.27,337.73 140.70,339.60 C141.13,341.47 141.57,341.93 142.00,343.80 C142.43,345.67 142.65,348.32 143.30,350.80 C143.95,353.28 144.87,356.37 145.90,358.70 C146.93,361.03 148.18,363.27 149.50,364.80 C150.82,366.33 152.57,367.15 153.80,367.90 C155.03,368.65 156.38,369.07 156.90,369.30 Z" fill="#dadada" stroke="#999" stroke-width="0.8"/>
<path d="M120.10,369.30 C120.38,368.85 121.22,367.93 121.80,366.60 C122.38,365.27 123.08,363.65 123.60,361.30 C124.12,358.95 124.53,355.42 124.90,352.50 C125.27,349.58 125.52,346.38 125.80,343.80 C126.08,341.22 126.23,339.75 126.60,337.00 C126.97,334.25 127.63,329.65 128.00,327.30 C128.37,324.95 128.52,324.37 128.80,322.90 C129.08,321.43 129.40,320.03 129.70,318.50 C130.00,316.97 130.15,313.85 130.60,313.70 C131.05,313.55 131.82,317.53 132.40,317.60 C132.98,317.67 133.60,313.37 134.10,314.10 C134.60,314.83 135.03,319.65 135.40,322.00 C135.77,324.35 136.03,326.03 136.30,328.20 C136.57,330.37 136.57,332.40 137.00,335.00 C137.43,337.60 138.28,340.88 138.90,343.80 C139.52,346.72 140.12,349.87 140.70,352.50 C141.28,355.13 141.75,357.55 142.40,359.60 C143.05,361.65 143.72,363.35 144.60,364.80 C145.48,366.25 146.75,367.55 147.70,368.30 C148.65,369.05 149.87,369.13 150.30,369.30" fill="none" stroke="#111" stroke-width="1.1" stroke-linejoin="round"/>
<polygon points="194.4,369.3 194.4,369.3 194.6,369.3 194.8,369.3 195.0,369.3 195.2,369.3 195.4,369.3 195.6,369.3 195.8,369.2 196.0,369.2 196.2,369.2 196.4,369.2 196.6,369.1 196.8,369.1 197.0,369.0 197.2,369.0 197.4,368.9 197.6,368.8 197.8,368.7 198.0,368.5 198.2,368.4 198.4,368.2 198.6,367.9 198.8,367.6 198.9,367.3 199.1,366.9 199.3,366.5 199.5,365.9 199.7,365.4 199.9,364.7 200.1,363.9 200.3,363.0 200.5,362.0 200.7,361.0 200.9,359.7 201.1,358.5 201.3,357.0 201.5,355.4 201.7,353.7 201.9,351.9 202.1,350.0 202.3,347.9 202.5,345.8 202.7,343.6 202.9,341.2 203.1,339.0 203.3,336.5 203.5,334.0 203.7,331.7 203.8,329.3 204.0,327.0 204.2,324.8 204.4,322.6 204.6,320.7 204.8,318.8 205.0,317.2 205.2,315.8 205.4,314.6 205.6,313.6 205.8,312.9 206.0,312.5 206.2,312.4 206.4,312.5 206.5,313.0 206.7,313.6 206.9,314.6 207.0,315.8 207.2,317.2 207.4,318.9 207.5,320.6 207.7,322.6 207.9,324.8 208.1,327.0 208.2,329.4 208.4,331.6 208.6,334.1 208.7,336.5 208.9,338.9 209.1,341.3 209.2,343.5 209.4,345.8 209.6,347.9 209.7,350.0 209.9,352.0 210.1,353.7 210.2,355.4 210.4,357.0 210.6,358.5 210.7,359.8 210.9,360.9 211.1,362.0 211.2,363.0 211.4,363.9 211.6,364.7 211.7,365.3 211.9,365.9 212.1,366.5 212.2,366.9 212.4,367.3 212.6,367.6 212.8,367.9 212.9,368.2 213.1,368.4 213.3,368.5 213.4,368.7 213.6,368.8 213.8,368.9 213.9,369.0 214.1,369.0 214.3,369.1 214.4,369.1 214.6,369.2 214.8,369.2 214.9,369.2 215.1,369.2 215.3,369.3 215.4,369.3 215.6,369.3 215.8,369.3 215.9,369.3 216.1,369.3 216.3,369.3 216.3,369.3" fill="#dadada" stroke="#999" stroke-width="0.8"/>
<path d="M185.30,369.30 C186.03,368.88 188.48,368.20 189.70,366.80 C190.92,365.40 191.73,363.85 192.60,360.90 C193.47,357.95 194.28,353.02 194.90,349.10 C195.52,345.18 195.82,341.08 196.30,337.40 C196.78,333.72 197.30,330.20 197.80,327.00 C198.30,323.80 198.88,320.63 199.30,318.20 C199.72,315.77 199.93,311.67 200.30,312.40 C200.67,313.13 201.12,318.43 201.50,322.60 C201.88,326.77 202.23,332.50 202.60,337.40 C202.97,342.30 203.28,347.60 203.70,352.00 C204.12,356.40 204.62,360.92 205.10,363.80 C205.58,366.68 206.35,368.38 206.60,369.30" fill="none" stroke="#111" stroke-width="1.1" stroke-linejoin="round"/>
<polygon points="84.8,429.3 84.8,429.3 85.0,429.3 85.2,429.3 85.4,429.3 85.6,429.3 85.8,429.3 86.0,429.3 86.2,429.2 86.4,429.2 86.6,429.2 86.8,429.2 87.0,429.1 87.2,429.1 87.4,429.1 87.6,429.0 87.8,428.9 88.0,428.8 88.2,428.7 88.4,428.6 88.6,428.4 88.8,428.2 89.0,428.0 89.2,427.7 89.3,427.4 89.5,427.0 89.7,426.5 89.9,426.0 90.1,425.5 90.3,424.8 90.5,424.0 90.7,423.2 90.9,422.2 91.1,421.2 91.3,420.0 91.5,418.7 91.7,417.3 91.9,415.7 92.1,414.1 92.3,412.3 92.5,410.5 92.7,408.5 92.9,406.3 93.1,404.2 93.3,401.9 93.5,399.7 93.7,397.3 93.9,394.9 94.0,392.6 94.2,390.3 94.4,388.1 94.6,385.9 94.8,383.7 95.0,381.9 95.2,380.1 95.4,378.5 95.6,377.1 95.8,375.9 96.0,375.0 96.2,374.3 96.4,373.9 96.6,373.8 96.8,373.9 97.1,374.3 97.4,375.0 97.6,375.9 97.9,377.1 98.1,378.5 98.4,380.1 98.6,381.9 98.9,383.8 99.1,385.9 99.4,388.0 99.6,390.3 99.9,392.7 100.1,395.0 100.4,397.3 100.6,399.6 100.9,401.9 101.1,404.2 101.4,406.4 101.6,408.5 101.9,410.4 102.1,412.3 102.4,414.1 102.7,415.8 102.9,417.3 103.2,418.7 103.4,420.0 103.7,421.2 103.9,422.2 104.2,423.2 104.4,424.0 104.7,424.8 104.9,425.5 105.2,426.0 105.4,426.5 105.7,427.0 105.9,427.4 106.2,427.7 106.4,428.0 106.7,428.2 106.9,428.4 107.2,428.6 107.4,428.7 107.7,428.8 107.9,428.9 108.2,429.0 108.4,429.1 108.7,429.1 109.0,429.1 109.2,429.2 109.5,429.2 109.7,429.2 110.0,429.2 110.2,429.3 110.5,429.3 110.7,429.3 111.0,429.3 111.2,429.3 111.5,429.3 111.7,429.3 111.7,429.3" fill="#dadada" stroke="#999" stroke-width="0.8"/>
<path d="M61.60,429.30 C61.97,428.38 63.07,426.68 63.80,423.80 C64.53,420.92 65.27,416.40 66.00,412.00 C66.73,407.60 67.58,401.55 68.20,397.40 C68.82,393.25 69.20,390.53 69.70,387.10 C70.20,383.67 70.75,379.02 71.20,376.80 C71.65,374.58 72.03,373.80 72.40,373.80 C72.77,373.80 73.07,375.33 73.40,376.80 C73.73,378.27 74.03,382.37 74.40,382.60 C74.77,382.83 75.15,377.95 75.60,378.20 C76.05,378.45 76.62,381.40 77.10,384.10 C77.58,386.80 77.90,390.97 78.50,394.40 C79.10,397.83 79.95,401.27 80.70,404.70 C81.45,408.13 82.13,411.68 83.00,415.00 C83.87,418.32 84.80,422.22 85.90,424.60 C87.00,426.98 88.98,428.52 89.60,429.30" fill="none" stroke="#111" stroke-width="1.1" stroke-linejoin="round"/>
<path d="M119.90,429.30 C120.22,428.55 121.17,426.67 121.80,424.80 C122.43,422.93 123.13,420.67 123.70,418.10 C124.27,415.53 124.72,412.28 125.20,409.40 C125.68,406.52 126.17,403.37 126.60,400.80 C127.03,398.23 127.25,397.60 127.80,394.00 C128.35,390.40 129.28,382.22 129.90,379.20 C130.52,376.18 130.95,376.88 131.50,375.90 C132.05,374.92 132.53,373.65 133.20,373.30 C133.87,372.95 134.73,373.75 135.50,373.80 C136.27,373.85 136.88,372.82 137.80,373.60 C138.72,374.38 140.18,376.47 141.00,378.50 C141.82,380.53 141.78,382.72 142.70,385.80 C143.62,388.88 145.42,394.35 146.50,397.00 C147.58,399.65 148.35,399.32 149.20,401.70 C150.05,404.08 150.72,408.57 151.60,411.30 C152.48,414.03 153.53,416.02 154.50,418.10 C155.47,420.18 156.28,422.20 157.40,423.80 C158.52,425.40 159.92,426.78 161.20,427.70 C162.48,428.62 164.45,429.03 165.10,429.30 Z" fill="#dadada" stroke="#999" stroke-width="0.8"/>
<path d="M119.90,429.30 C120.22,428.55 121.17,426.67 121.80,424.80 C122.43,422.93 123.13,420.67 123.70,418.10 C124.27,415.53 124.72,412.28 125.20,409.40 C125.68,406.52 126.17,403.37 126.60,400.80 C127.03,398.23 127.25,397.60 127.80,394.00 C128.35,390.40 129.28,382.22 129.90,379.20 C130.52,376.18 130.95,376.88 131.50,375.90 C132.05,374.92 132.60,373.52 133.20,373.30 C133.80,373.08 134.67,373.28 135.10,374.60 C135.53,375.92 135.42,378.68 135.80,381.20 C136.18,383.72 136.77,387.23 137.40,389.70 C138.03,392.17 138.92,393.52 139.60,396.00 C140.28,398.48 140.87,401.57 141.50,404.60 C142.13,407.63 142.75,411.15 143.40,414.20 C144.05,417.25 144.67,420.73 145.40,422.90 C146.13,425.07 146.77,426.13 147.80,427.20 C148.83,428.27 150.97,428.95 151.60,429.30" fill="none" stroke="#111" stroke-width="1.1" stroke-linejoin="round"/>
<polygon points="191.5,429.3 191.5,429.3 191.8,429.3 192.0,429.3 192.2,429.3 192.5,429.3 192.7,429.3 192.9,429.3 193.2,429.2 193.4,429.2 193.6,429.2 193.8,429.2 194.1,429.1 194.3,429.1 194.5,429.1 194.8,429.0 195.0,428.9 195.2,428.8 195.5,428.7 195.7,428.6 195.9,428.4 196.2,428.2 196.4,428.0 196.6,427.7 196.8,427.4 197.1,427.0 197.3,426.6 197.6,426.1 197.8,425.5 198.0,424.8 198.2,424.1 198.5,423.3 198.7,422.3 198.9,421.3 199.2,420.1 199.4,418.9 199.6,417.4 199.9,415.9 200.1,414.3 200.3,412.6 200.6,410.7 200.8,408.8 201.0,406.7 201.2,404.6 201.5,402.4 201.7,400.1 201.9,397.7 202.2,395.4 202.4,393.1 202.6,390.8 202.9,388.6 203.1,386.5 203.3,384.5 203.6,382.6 203.8,380.8 204.0,379.2 204.2,377.8 204.5,376.7 204.7,375.8 204.9,375.1 205.2,374.7 205.4,374.6 205.6,374.7 205.8,375.1 206.0,375.8 206.2,376.7 206.3,377.8 206.5,379.2 206.7,380.8 206.9,382.5 207.1,384.4 207.3,386.5 207.5,388.6 207.7,390.9 207.9,393.2 208.1,395.5 208.2,397.8 208.4,400.0 208.6,402.3 208.8,404.5 209.0,406.7 209.2,408.8 209.4,410.7 209.6,412.6 209.8,414.4 209.9,416.0 210.1,417.4 210.3,418.8 210.5,420.1 210.7,421.3 210.9,422.3 211.1,423.3 211.3,424.1 211.4,424.9 211.6,425.5 211.8,426.1 212.0,426.6 212.2,427.0 212.4,427.4 212.6,427.7 212.8,428.0 213.0,428.2 213.2,428.4 213.3,428.6 213.5,428.7 213.7,428.8 213.9,428.9 214.1,429.0 214.3,429.1 214.5,429.1 214.7,429.1 214.8,429.2 215.0,429.2 215.2,429.2 215.4,429.2 215.6,429.3 215.8,429.3 216.0,429.3 216.2,429.3 216.4,429.3 216.6,429.3 216.7,429.3 216.7,429.3" fill="#dadada" stroke="#999" stroke-width="0.8"/>
<path d="M185.30,429.30 C185.92,428.63 187.90,427.68 189.00,425.30 C190.10,422.92 191.05,419.17 191.90,415.00 C192.75,410.83 193.37,405.45 194.10,400.30 C194.83,395.15 195.68,388.27 196.30,384.10 C196.92,379.93 197.38,377.02 197.80,375.30 C198.22,373.58 198.43,373.32 198.80,373.80 C199.17,374.28 199.55,375.50 200.00,378.20 C200.45,380.90 201.02,385.58 201.50,390.00 C201.98,394.42 202.42,400.28 202.90,404.70 C203.38,409.12 203.78,413.07 204.40,416.50 C205.02,419.93 205.62,423.17 206.60,425.30 C207.58,427.43 209.68,428.63 210.30,429.30" fill="none" stroke="#111" stroke-width="1.1" stroke-linejoin="round"/>
<line x1="57.9" y1="248.8" x2="238.5" y2="248.8" stroke="#aaa" stroke-width="1"/>
<line x1="57.9" y1="309.0" x2="238.5" y2="309.0" stroke="#555" stroke-width="1"/>
<line x1="57.9" y1="369.5" x2="238.5" y2="369.5" stroke="#555" stroke-width="1"/>
<line x1="57.9" y1="429.8" x2="238.5" y2="429.8" stroke="#555" stroke-width="1"/>
<line x1="57.9" y1="248.8" x2="57.9" y2="429.8" stroke="#999" stroke-width="0.9"/>
<line x1="118.2" y1="248.8" x2="118.2" y2="429.8" stroke="#aaa" stroke-width="0.9"/>
<line x1="178.4" y1="248.8" x2="178.4" y2="429.8" stroke="#aaa" stroke-width="0.9"/>
<line x1="238.5" y1="248.8" x2="238.5" y2="429.8" stroke="#aaa" stroke-width="0.9"/>
<line x1="56.4" y1="309.0" x2="57.9" y2="309.0" stroke="#999" stroke-width="0.6"/>
<rect x="51.6" y="308.2" width="3.6" height="1.6" fill="#c4c4c4"/>
<line x1="56.4" y1="297.6" x2="57.9" y2="297.6" stroke="#999" stroke-width="0.6"/>
<rect x="51.6" y="296.8" width="3.6" height="1.6" fill="#c4c4c4"/>
<line x1="56.4" y1="286.1" x2="57.9" y2="286.1" stroke="#999" stroke-width="0.6"/>
<rect x="51.6" y="285.3" width="3.6" height="1.6" fill="#c4c4c4"/>
<line x1="56.4" y1="274.7" x2="57.9" y2="274.7" stroke="#999" stroke-width="0.6"/>
<rect x="51.6" y="273.9" width="3.6" height="1.6" fill="#c4c4c4"/>
<line x1="56.4" y1="263.2" x2="57.9" y2="263.2" stroke="#999" stroke-width="0.6"/>
<rect x="51.6" y="262.4" width="3.6" height="1.6" fill="#c4c4c4"/>
<line x1="56.4" y1="251.8" x2="57.9" y2="251.8" stroke="#999" stroke-width="0.6"/>
<rect x="51.6" y="251.0" width="3.6" height="1.6" fill="#c4c4c4"/>
<line x1="56.4" y1="369.5" x2="57.9" y2="369.5" stroke="#999" stroke-width="0.6"/>
<rect x="51.6" y="368.7" width="3.6" height="1.6" fill="#c4c4c4"/>
<line x1="56.4" y1="358.0" x2="57.9" y2="358.0" stroke="#999" stroke-width="0.6"/>
<rect x="51.6" y="357.2" width="3.6" height="1.6" fill="#c4c4c4"/>
<line x1="56.4" y1="346.5" x2="57.9" y2="346.5" stroke="#999" stroke-width="0.6"/>
<rect x="51.6" y="345.7" width="3.6" height="1.6" fill="#c4c4c4"/>
<line x1="56.4" y1="335.0" x2="57.9" y2="335.0" stroke="#999" stroke-width="0.6"/>
<rect x="51.6" y="334.2" width="3.6" height="1.6" fill="#c4c4c4"/>
<line x1="56.4" y1="323.5" x2="57.9" y2="323.5" stroke="#999" stroke-width="0.6"/>
<rect x="51.6" y="322.7" width="3.6" height="1.6" fill="#c4c4c4"/>
<line x1="56.4" y1="312.0" x2="57.9" y2="312.0" stroke="#999" stroke-width="0.6"/>
<rect x="51.6" y="311.2" width="3.6" height="1.6" fill="#c4c4c4"/>
<line x1="56.4" y1="429.8" x2="57.9" y2="429.8" stroke="#999" stroke-width="0.6"/>
<rect x="51.6" y="429.0" width="3.6" height="1.6" fill="#c4c4c4"/>
<line x1="56.4" y1="418.3" x2="57.9" y2="418.3" stroke="#999" stroke-width="0.6"/>
<rect x="51.6" y="417.5" width="3.6" height="1.6" fill="#c4c4c4"/>
<line x1="56.4" y1="406.9" x2="57.9" y2="406.9" stroke="#999" stroke-width="0.6"/>
<rect x="51.6" y="406.1" width="3.6" height="1.6" fill="#c4c4c4"/>
<line x1="56.4" y1="395.4" x2="57.9" y2="395.4" stroke="#999" stroke-width="0.6"/>
<rect x="51.6" y="394.6" width="3.6" height="1.6" fill="#c4c4c4"/>
<line x1="56.4" y1="384.0" x2="57.9" y2="384.0" stroke="#999" stroke-width="0.6"/>
<rect x="51.6" y="383.2" width="3.6" height="1.6" fill="#c4c4c4"/>
<line x1="56.4" y1="372.5" x2="57.9" y2="372.5" stroke="#999" stroke-width="0.6"/>
<rect x="51.6" y="371.7" width="3.6" height="1.6" fill="#c4c4c4"/>
<rect x="68.9" y="433.8" width="2" height="1.6" fill="#bbb"/>
<rect x="81.9" y="433.8" width="2" height="1.6" fill="#bbb"/>
<rect x="96.9" y="433.8" width="2" height="1.6" fill="#bbb"/>
<rect x="110.9" y="433.8" width="2" height="1.6" fill="#bbb"/>
<rect x="129.2" y="433.8" width="2" height="1.6" fill="#bbb"/>
<rect x="142.2" y="433.8" width="2" height="1.6" fill="#bbb"/>
<rect x="157.2" y="433.8" width="2" height="1.6" fill="#bbb"/>
<rect x="171.2" y="433.8" width="2" height="1.6" fill="#bbb"/>
<rect x="189.4" y="433.8" width="2" height="1.6" fill="#bbb"/>
<rect x="202.4" y="433.8" width="2" height="1.6" fill="#bbb"/>
<rect x="217.4" y="433.8" width="2" height="1.6" fill="#bbb"/>
<rect x="231.4" y="433.8" width="2" height="1.6" fill="#bbb"/></svg>
</body></html>
